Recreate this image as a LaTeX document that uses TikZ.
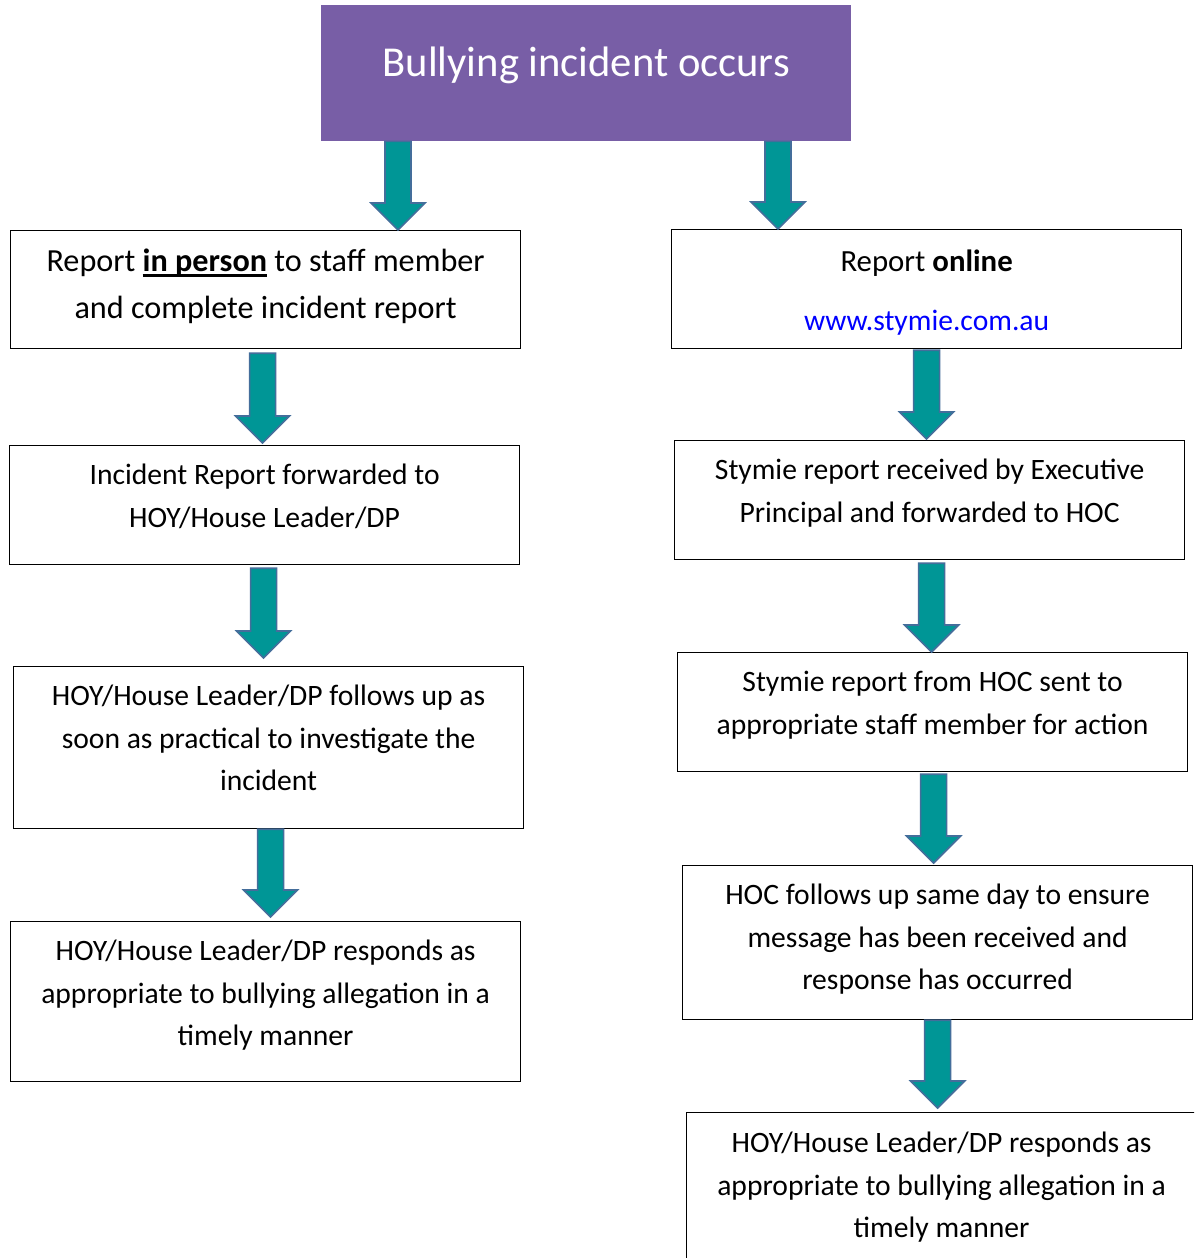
\documentclass[tikz,border=0pt]{standalone}
\usepackage{fontspec}
\setmainfont{Carlito}
\usetikzlibrary{calc}
\definecolor{hdr}{RGB}{120,94,166}
\definecolor{tealfill}{RGB}{0,150,150}
\definecolor{aline}{RGB}{68,110,155}
\definecolor{urlblue}{RGB}{0,0,255}
\newcommand\thickul[1]{\setbox0\hbox{#1}\leavevmode\rlap{\rule[-5pt]{\wd0}{2.6pt}}\box0\relax}
\tikzset{
  flowbox/.style={draw=black, line width=1.2pt, rectangle, inner sep=0pt, anchor=north west, minimum width=510pt},
  boxtext/.style={anchor=north, inner sep=0pt, align=center, font=\fontsize{29.6}{42.5}\selectfont},
  blockarr/.style={fill=tealfill, draw=aline, line width=1.6pt, line join=miter,
    to path={let \p1=(\tikztostart), \p2=(\tikztotarget) in
      (\x1-13pt,\y1) -- (\x1+13pt,\y1) -- (\x1+13pt,\y2+27pt) -- (\x1+27pt,\y2+27pt)
      -- (\x1,\y2) -- (\x1-27pt,\y2+27pt) -- (\x1-13pt,\y2+27pt) -- cycle}}
}
\begin{document}
\begin{tikzpicture}[x=1pt,y=-1pt]
\clip (0,0) rectangle (1194,1258);
\fill[white] (0,0) rectangle (1194,1258);

% header
\node[fill=hdr, inner sep=0pt, anchor=north west, minimum width=530pt, minimum height=136pt] (top) at (321,5) {};
\node[anchor=north, inner sep=0pt, text=white, font=\fontsize{42.6}{50}\selectfont] (title) at ($(top.north)+(0,42)$) {Bullying incident occurs};

% left column
\node[flowbox, minimum height=118pt] (L1) at (10,230) {};
\node[boxtext, font=\fontsize{32.2}{47}\selectfont] (L1t) at ($(L1.north)+(0,19)$) {Report \thickul{\textbf{in person}} to staff member\\and complete incident report};
\node[flowbox, minimum height=119pt] (L2) at (9,445) {};
\node[boxtext] (L2t) at ($(L2.north)+(0,19)$) {Incident Report forwarded to\\HOY/House Leader/DP};
\node[flowbox, minimum height=162pt] (L3) at (13,666) {};
\node[boxtext] (L3t) at ($(L3.north)+(0,19)$) {HOY/House Leader/DP follows up as\\soon as practical to investigate the\\incident};
\node[flowbox, minimum height=160pt] (L4) at (10,921) {};
\node[boxtext] (L4t) at ($(L4.north)+(0,19)$) {HOY/House Leader/DP responds as\\appropriate to bullying allegation in a\\timely manner};

% right column
\node[flowbox, minimum height=119pt] (R1) at (671,229) {};
\node[boxtext] (R1t) at ($(R1.north)+(0,21)$) {{\fontsize{30.8}{42.5}\selectfont Report \textbf{online}}\\[16.5pt]\textcolor{urlblue}{www.stymie.com.au}};
\node[flowbox, minimum height=119pt] (R2) at (674,440) {};
\node[boxtext] (R2t) at ($(R2.north)+(0,19)$) {Stymie report received by Executive\\Principal and forwarded to HOC};
\node[flowbox, minimum height=119pt] (R3) at (677,652) {};
\node[boxtext] (R3t) at ($(R3.north)+(0,19)$) {Stymie report from HOC sent to\\appropriate staff member for action};
\node[flowbox, minimum height=154pt] (R4) at (682,865) {};
\node[boxtext] (R4t) at ($(R4.north)+(0,19)$) {HOC follows up same day to ensure\\message has been received and\\response has occurred};
\node[flowbox, minimum height=170pt] (R5) at (686,1112) {};
\node[boxtext] (R5t) at ($(R5.north)+(0,20)$) {HOY/House Leader/DP responds as\\appropriate to bullying allegation in a\\timely manner};

% block arrows
\coordinate (tl) at ($(top.south west)+(77,0)$);
\coordinate (tr) at ($(top.south west)+(457,0)$);
\draw[blockarr] (tl) to (tl |- L1.north);
\draw[blockarr] (tr) to (tr |- R1.north);
\draw[blockarr] ($(L1.south)+(-3,4)$) to ($(L1.south |- L2.north)+(0,-2)$);
\draw[blockarr] ($(L2.south)+(-1,3)$) to ($(L2.south |- L3.north)+(0,-8)$);
\draw[blockarr] ($(L3.south)+(2,0)$) to ($(L3.south |- L4.north)+(0,-4)$);
\draw[blockarr] ($(R1.south)+(0,1)$) to ($(R1.south |- R2.north)+(0,-1)$);
\draw[blockarr] ($(R2.south)+(2,3)$) to ($(R2.south |- R3.north)+(0,0)$);
\draw[blockarr] ($(R3.south)+(1,2)$) to ($(R3.south |- R4.north)+(0,-2)$);
\draw[blockarr] ($(R4.south)+(0,0)$) to ($(R4.south |- R5.north)+(0,-4)$);
\end{tikzpicture}
\end{document}
